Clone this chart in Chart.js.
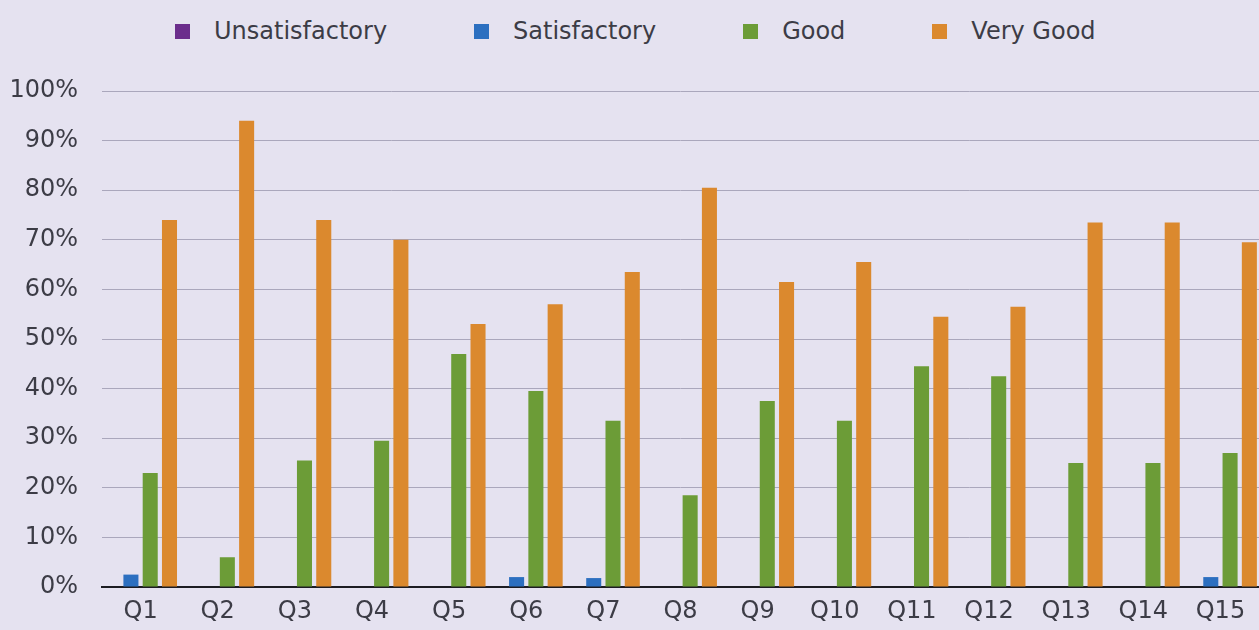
<!DOCTYPE html>
<html>
<head>
<meta charset="utf-8">
<script src="https://cdn.jsdelivr.net/npm/chart.js@4"></script>
<style>
    html, body { margin: 0; padding: 0; }
    body { width: 1259px; height: 630px; background: #e5e2f0; position: relative; overflow: hidden; font-family: "DejaVu Sans", sans-serif; }
    #wrap { position: absolute; left: 0; top: 0; width: 1259px; height: 630px; }
    #legend { position: absolute; left: 175px; top: 17px; display: flex; align-items: center; font-size: 24px; color: #3c3c46; }
    #legend .item { display: flex; align-items: center; margin-right: 87px; }
    #legend .box { width: 15px; height: 15px; margin-right: 24px; }
</style>
</head>
<body>
<div id="legend"></div>
<div id="wrap"><canvas id="surveyChart" width="1259" height="630"></canvas></div>
<script>
const questions = ['Q1', 'Q2', 'Q3', 'Q4', 'Q5', 'Q6', 'Q7', 'Q8', 'Q9', 'Q10', 'Q11', 'Q12', 'Q13', 'Q14', 'Q15'];
const seriesNames = ['Unsatisfactory', 'Satisfactory', 'Good', 'Very Good'];
const seriesColors = ['#6b2d8c', '#2c6fc0', '#6c9c37', '#db892e'];

const unsatisfactory = [0, 0, 0, 0, 0, 0, 0, 0, 0, 0, 0, 0, 0, 0, 0];
const satisfactory   = [2.5, 0, 0, 0, 0, 2, 1.8, 0, 0, 0, 0, 0, 0, 0, 2];
const good           = [23, 6, 25.5, 29.5, 47, 39.5, 33.5, 18.5, 37.5, 33.5, 44.5, 42.5, 25, 25, 27];
const veryGood       = [74, 94, 74, 70, 53, 57, 63.5, 80.5, 61.5, 65.5, 54.5, 56.5, 73.5, 73.5, 69.5];

const yTicks = [0, 10, 20, 30, 40, 50, 60, 70, 80, 90, 100];

document.addEventListener("DOMContentLoaded", function() {

    const allSeries = [unsatisfactory, satisfactory, good, veryGood];

    // legend (html, same names/colours as datasets)
    const legend = document.getElementById("legend");
    seriesNames.forEach(function(name, i) {
        const item = document.createElement("div");
        item.className = "item";
        const box = document.createElement("span");
        box.className = "box";
        box.style.background = seriesColors[i];
        const txt = document.createElement("span");
        txt.textContent = name;
        item.appendChild(box);
        item.appendChild(txt);
        legend.appendChild(item);
    });

    const ctx = document.getElementById("surveyChart");
    new Chart(ctx, {
        type: 'bar',
        data: {
            labels: questions,
            datasets: seriesNames.map(function(name, i) {
                return {
                    label: name,
                    data: allSeries[i],
                    backgroundColor: seriesColors[i],
                    borderWidth: 0,
                    categoryPercentage: 1.0,
                    barPercentage: 0.78
                };
            })
        },
        options: {
            responsive: false,
            animation: false,
            layout: { padding: { top: 91, left: 0, right: 0, bottom: 0 } },
            plugins: {
                legend: { display: false },
                tooltip: { enabled: false }
            },
            scales: {
                x: {
                    grid: { display: false, drawTicks: false },
                    border: { display: true, color: '#1c1c22', width: 2 },
                    ticks: {
                        padding: 10,
                        color: '#3c3c46',
                        font: { family: 'DejaVu Sans', size: 24 }
                    },
                    afterFit: function(scale) { scale.height = 43; }
                },
                y: {
                    min: 0,
                    max: 100,
                    afterBuildTicks: function(scale) {
                        scale.ticks = yTicks.map(function(v) { return { value: v }; });
                    },
                    grid: { color: '#aaa7bc', lineWidth: 1, drawTicks: false },
                    border: { display: false },
                    ticks: {
                        padding: 24,
                        color: '#3c3c46',
                        font: { family: 'DejaVu Sans', size: 24 },
                        callback: function(v) { return v + '%'; }
                    },
                    afterFit: function(scale) { scale.width = 102; }
                }
            }
        }
    });
});
</script>
</body>
</html>
